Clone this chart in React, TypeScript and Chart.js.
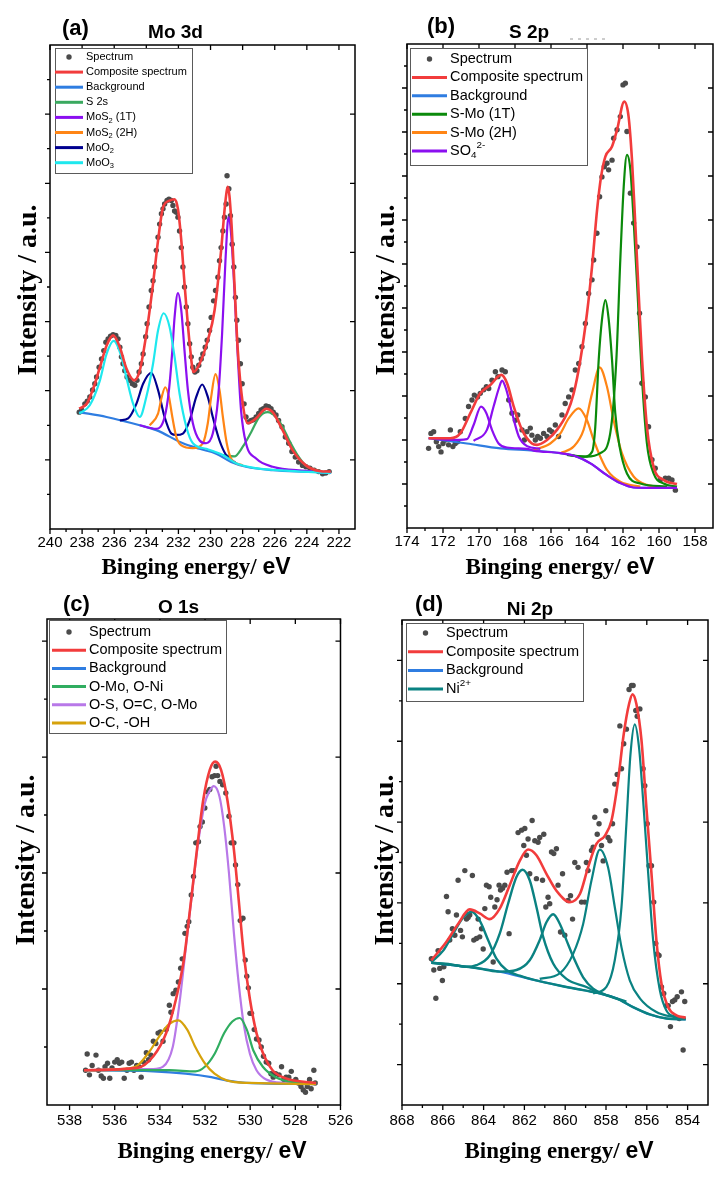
import React, { useEffect, useRef } from 'react';
import { Chart, registerables } from 'chart.js';
Chart.register(...registerables);

const SANS = '"Liberation Sans", Arial, "DejaVu Sans", sans-serif';
const SERIF = '"Liberation Serif", "Times New Roman", serif';
const DOT = '#4b4b4b';
const RED = '#f23c3c';
const BLUE = '#2f7de1';

type Pair = [number, number];

// ================= Panel (a) Mo 3d =================
const A_X_LABELS = [240, 238, 236, 234, 232, 230, 228, 226, 224, 222];
const A_X_MINOR = [239, 237, 235, 233, 231, 229, 227, 225, 223];
const A_Y_MAJOR = [1, 2, 3, 4, 5, 6];
const A_Y_MINOR = [0.5, 1.5, 2.5, 3.5, 4.5, 5.5, 6.5];
const A_NAMES = ['Spectrum', 'Composite spectrum', 'Background', 'S 2s', 'MoS_{2} (1T)', 'MoS_{2} (2H)', 'MoO_{2}', 'MoO_{3}'];
const A_SPECTRUM: Pair[] = [[238.18,1.69],[238.03,1.72],[237.83,1.81],[237.68,1.85],[237.52,1.91],[237.35,2.01],[237.21,2.10],[237.10,2.20],[236.94,2.34],[236.79,2.46],[236.65,2.58],[236.52,2.70],[236.38,2.75],[236.23,2.79],[236.07,2.81],[235.90,2.80],[235.76,2.75],[235.65,2.63],[235.55,2.49],[235.45,2.39],[235.34,2.29],[235.20,2.20],[235.03,2.15],[234.87,2.10],[234.72,2.08],[234.58,2.15],[234.45,2.27],[234.31,2.39],[234.20,2.53],[234.04,2.78],[233.95,2.97],[233.83,3.21],[233.69,3.45],[233.58,3.59],[233.48,3.79],[233.38,4.03],[233.27,4.22],[233.17,4.41],[233.06,4.56],[232.96,4.63],[232.86,4.70],[232.71,4.75],[232.59,4.77],[232.44,4.75],[232.34,4.68],[232.24,4.60],[232.13,4.58],[232.03,4.51],[231.93,4.31],[231.82,4.07],[231.72,3.79],[231.62,3.50],[231.51,3.21],[231.41,2.97],[231.30,2.68],[231.20,2.49],[231.10,2.34],[230.97,2.27],[230.85,2.29],[230.73,2.37],[230.58,2.46],[230.48,2.53],[230.33,2.63],[230.21,2.73],[230.06,2.87],[229.96,3.06],[229.81,3.30],[229.69,3.45],[229.54,3.64],[229.44,3.88],[229.34,4.07],[229.23,4.31],[229.13,4.51],[229.03,4.70],[228.97,5.11],[228.86,4.92],[228.76,4.53],[228.65,4.12],[228.55,3.79],[228.45,3.35],[228.36,3.02],[228.26,2.73],[228.14,2.39],[228.03,2.10],[227.91,1.81],[227.79,1.62],[227.62,1.55],[227.47,1.57],[227.33,1.58],[227.16,1.62],[227.00,1.67],[226.85,1.72],[226.71,1.74],[226.54,1.78],[226.38,1.77],[226.23,1.74],[226.09,1.69],[225.92,1.65],[225.76,1.57],[225.55,1.48],[225.34,1.33],[225.13,1.24],[224.93,1.12],[224.72,1.04],[224.51,0.97],[224.27,0.92],[224.06,0.90],[223.81,0.88],[223.54,0.85],[223.27,0.83],[223.02,0.80],[222.82,0.81],[222.61,0.83]];
const A_COMPOSITE: Pair[] = [[238.18,1.74],[237.72,1.81],[237.31,2.03],[236.89,2.34],[236.48,2.65],[236.07,2.80],[235.65,2.63],[235.24,2.32],[234.76,2.15],[234.41,2.29],[234.00,2.82],[233.58,3.55],[233.27,4.17],[232.96,4.65],[232.55,4.75],[232.24,4.77],[232.03,4.63],[231.82,4.17],[231.62,3.55],[231.30,2.68],[231.06,2.27],[230.68,2.39],[230.17,2.73],[229.75,3.16],[229.34,4.03],[229.09,4.70],[228.92,4.95],[228.72,4.51],[228.51,3.55],[228.30,2.58],[227.99,1.81],[227.68,1.53],[227.16,1.60],[226.54,1.74],[226.13,1.69],[225.51,1.43],[224.89,1.14],[224.06,0.92],[223.23,0.84],[222.51,0.83]];
const A_BACKGROUND: Pair[] = [[238.18,1.69],[236.48,1.62],[234.41,1.50],[233.38,1.43],[231.72,1.24],[230.68,1.16],[229.65,1.09],[228.72,0.97],[227.79,0.90],[226.13,0.85],[224.06,0.83],[222.51,0.82]];
const A_S2S: Pair[] = [[229.23,1.07],[228.51,1.05],[227.99,1.19],[227.47,1.40],[226.96,1.62],[226.44,1.69],[225.92,1.62],[225.51,1.48],[225.09,1.28],[224.58,1.07],[224.06,0.92],[223.23,0.84],[222.51,0.81]];
const A_MOS2_1T: Pair[] = [[234.41,1.50],[233.38,1.45],[232.86,1.62],[232.59,2.01],[232.38,2.58],[232.24,3.06],[232.03,3.41],[231.82,3.16],[231.62,2.58],[231.41,2.01],[231.10,1.53],[230.68,1.28],[230.27,1.24],[229.86,1.38],[229.54,1.86],[229.28,2.82],[229.07,3.88],[228.88,4.51],[228.72,4.27],[228.51,3.45],[228.30,2.49],[228.10,1.72],[227.79,1.24],[227.16,1.02],[226.13,0.90],[224.06,0.84],[222.51,0.81]];
const A_MOS2_2H: Pair[] = [[233.79,1.50],[233.27,1.67],[233.06,1.89],[232.82,2.05],[232.59,1.91],[232.38,1.62],[232.13,1.33],[231.82,1.21],[231.10,1.17],[230.48,1.24],[230.17,1.53],[229.96,1.91],[229.69,2.24],[229.44,2.01],[229.23,1.62],[228.99,1.24],[228.72,1.02],[227.99,0.92]];
const A_MOO2: Pair[] = [[235.65,1.57],[235.13,1.60],[234.62,1.81],[234.20,2.10],[233.69,2.26],[233.27,2.01],[232.86,1.62],[232.44,1.38],[232.13,1.36],[231.72,1.38],[231.30,1.57],[230.89,1.91],[230.52,2.09],[230.17,1.91],[229.86,1.62],[229.44,1.28],[229.03,1.07],[228.41,0.95]];
const A_MOO3: Pair[] = [[238.18,1.67],[237.52,1.79],[236.89,2.15],[236.48,2.53],[236.03,2.72],[235.55,2.49],[235.20,2.15],[234.82,1.81],[234.41,1.62],[234.00,1.91],[233.58,2.39],[233.27,2.87],[232.92,3.12],[232.55,2.92],[232.24,2.49],[231.93,1.96],[231.51,1.48],[231.10,1.24],[230.27,1.16],[229.23,1.07],[228.41,0.95],[227.16,0.88],[225.09,0.84],[222.51,0.81]];

// ================= Panel (b) S 2p =================
const B_X_LABELS = [174, 172, 170, 168, 166, 164, 162, 160, 158];
const B_X_MINOR = [173, 171, 169, 167, 165, 163, 161, 159];
const B_Y_MAJOR = [1, 2, 3, 4, 5, 6, 7, 8, 9, 10];
const B_Y_MINOR = [0.5, 1.5, 2.5, 3.5, 4.5, 5.5, 6.5, 7.5, 8.5, 9.5, 10.5];
const B_NAMES = ['Spectrum', 'Composite spectrum', 'Background', 'S-Mo (1T)', 'S-Mo (2H)', 'SO_{4}^{2-}'];
const B_SPECTRUM: Pair[] = [[172.80,1.81],[172.67,2.15],[172.52,2.19],[172.37,1.96],[172.24,1.85],[172.11,1.73],[172.00,1.92],[171.87,2.00],[171.69,1.89],[171.59,2.23],[171.45,1.85],[171.32,1.92],[171.19,1.96],[171.04,2.19],[170.76,2.49],[170.58,2.76],[170.39,2.91],[170.26,3.02],[170.08,2.98],[169.93,3.06],[169.74,3.14],[169.59,3.21],[169.46,3.17],[169.28,3.36],[169.09,3.55],[168.95,3.44],[168.72,3.59],[168.54,3.55],[168.35,2.91],[168.17,2.61],[167.98,2.45],[167.85,2.57],[167.61,2.23],[167.48,2.00],[167.34,2.19],[167.15,2.27],[167.06,2.11],[166.87,2.00],[166.74,2.08],[166.59,2.04],[166.41,2.15],[166.22,2.08],[166.08,2.23],[165.95,2.19],[165.76,2.34],[165.58,2.08],[165.39,2.57],[165.21,2.83],[165.02,2.98],[164.83,3.14],[164.65,3.59],[164.46,3.74],[164.28,4.12],[164.09,4.65],[163.91,5.33],[163.72,5.64],[163.63,6.09],[163.45,6.70],[163.30,7.53],[163.17,7.98],[163.04,8.21],[162.89,8.29],[162.80,8.14],[162.61,8.36],[162.52,8.86],[162.33,9.05],[162.15,9.35],[162.00,10.07],[161.87,10.11],[161.78,9.01],[161.59,7.61],[161.41,6.93],[161.22,6.39],[161.08,4.88],[160.95,3.29],[160.76,2.98],[160.58,2.30],[160.39,1.55],[160.21,1.36],[159.93,1.09],[159.65,1.13],[159.46,1.13],[159.28,1.09],[159.09,0.86]];
const B_COMPOSITE: Pair[] = [[172.80,2.04],[171.59,2.04],[171.04,2.15],[170.48,2.61],[169.93,3.06],[169.37,3.25],[168.76,3.48],[168.44,3.29],[168.07,2.76],[167.61,2.23],[167.06,1.92],[166.78,1.89],[166.22,2.00],[165.67,2.23],[165.11,2.61],[164.74,3.06],[164.37,3.82],[164.00,4.88],[163.72,5.94],[163.44,7.23],[163.22,7.98],[162.98,8.44],[162.61,8.67],[162.33,9.05],[161.93,9.69],[161.69,9.35],[161.50,8.36],[161.31,6.85],[161.13,5.33],[160.94,3.82],[160.67,2.30],[160.30,1.39],[159.74,1.09],[159.00,1.00]];
const B_BACKGROUND: Pair[] = [[172.80,2.04],[170.67,1.92],[168.81,1.81],[166.96,1.76],[165.48,1.70],[164.56,1.62],[163.81,1.47],[162.89,1.20],[162.15,1.02],[161.41,0.92],[160.30,0.91],[159.00,0.91]];
const B_SMO_1T_A: Pair[] = [[165.11,1.66],[164.19,1.62],[163.72,1.73],[163.54,2.30],[163.35,3.82],[163.17,4.73],[162.98,5.18],[162.81,4.80],[162.61,3.82],[162.43,2.61],[162.19,1.85],[161.78,1.24],[161.04,1.01],[159.56,0.94]];
const B_SMO_1T_B: Pair[] = [[165.11,1.66],[164.00,1.62],[163.26,1.70],[162.71,2.15],[162.37,3.82],[162.15,6.09],[161.96,7.76],[161.78,8.48],[161.59,8.14],[161.41,7.00],[161.19,5.33],[160.95,3.44],[160.67,1.92],[160.30,1.24],[159.74,1.01],[159.00,0.94]];
const B_SMO_2H_A: Pair[] = [[166.97,1.77],[166.04,1.92],[165.48,2.15],[165.02,2.49],[164.46,2.72],[164.00,2.45],[163.63,2.00],[163.26,1.62],[162.89,1.32],[162.15,1.05],[161.04,0.94]];
const B_SMO_2H_B: Pair[] = [[165.48,1.70],[164.74,1.85],[164.19,2.23],[163.72,3.06],[163.30,3.65],[162.89,3.21],[162.52,2.45],[162.06,1.70],[161.41,1.17],[160.67,0.98],[159.56,0.92]];
const B_SO4_A: Pair[] = [[172.80,2.04],[171.59,2.00],[170.67,2.02],[170.30,2.34],[169.89,2.76],[169.59,2.61],[169.28,2.23],[168.91,1.92],[168.45,1.83],[167.33,1.80],[166.96,1.76],[165.48,1.70],[164.56,1.62],[163.81,1.47],[162.89,1.20],[162.15,1.02],[161.41,0.92],[160.30,0.91],[159.00,0.91]];
const B_SO4_B: Pair[] = [[170.30,1.98],[169.56,2.23],[169.19,2.76],[168.90,3.17],[168.72,3.35],[168.48,3.14],[168.16,2.61],[167.79,2.08],[167.33,1.86],[166.59,1.80]];

// ================= Panel (c) O 1s =================
const C_X_LABELS = [538, 536, 534, 532, 530, 528, 526];
const C_X_MINOR = [537, 535, 533, 531, 529, 527];
const C_Y_MAJOR = [1, 2, 3, 4];
const C_Y_MINOR = [0.5, 1.5, 2.5, 3.5];
const C_NAMES = ['Spectrum', 'Composite spectrum', 'Background', 'O-Mo, O-Ni', 'O-S, O=C, O-Mo', 'O-C, -OH'];
const C_SPECTRUM: Pair[] = [[537.29,0.30],[537.22,0.44],[537.12,0.26],[537.00,0.34],[536.83,0.43],[536.72,0.30],[536.60,0.25],[536.50,0.23],[536.43,0.33],[536.32,0.36],[536.22,0.23],[536.12,0.32],[536.00,0.37],[535.89,0.39],[535.79,0.36],[535.69,0.37],[535.58,0.23],[535.46,0.30],[535.36,0.36],[535.26,0.37],[535.15,0.30],[535.03,0.34],[534.93,0.33],[534.83,0.24],[534.72,0.37],[534.60,0.45],[534.50,0.39],[534.40,0.43],[534.29,0.55],[534.18,0.53],[534.08,0.62],[533.98,0.63],[533.86,0.55],[533.72,0.65],[533.58,0.86],[533.51,0.80],[533.41,0.96],[533.29,0.99],[533.18,1.06],[533.08,1.18],[533.01,1.26],[532.89,1.48],[532.79,1.54],[532.72,1.58],[532.61,1.81],[532.51,1.97],[532.41,2.26],[532.29,2.27],[532.22,2.40],[532.12,2.44],[532.01,2.56],[531.89,2.70],[531.79,2.72],[531.69,2.83],[531.58,2.84],[531.51,2.92],[531.44,2.84],[531.34,2.79],[531.22,2.76],[531.08,2.69],[530.94,2.49],[530.84,2.26],[530.72,2.26],[530.65,2.07],[530.55,1.90],[530.44,1.59],[530.32,1.61],[530.22,1.25],[530.15,1.11],[530.08,1.01],[530.01,0.79],[529.94,0.79],[529.82,0.65],[529.72,0.57],[529.61,0.56],[529.51,0.50],[529.41,0.42],[529.29,0.37],[529.18,0.36],[529.08,0.27],[528.98,0.24],[528.87,0.27],[528.72,0.26],[528.61,0.33],[528.51,0.22],[528.41,0.24],[528.29,0.24],[528.18,0.29],[528.08,0.20],[527.98,0.22],[527.87,0.19],[527.75,0.16],[527.65,0.13],[527.55,0.11],[527.47,0.16],[527.37,0.22],[527.30,0.14],[527.18,0.30],[527.12,0.19]];
const C_COMPOSITE: Pair[] = [[537.36,0.30],[535.00,0.32],[534.29,0.42],[533.72,0.62],[533.29,0.91],[532.94,1.25],[532.65,1.71],[532.36,2.20],[532.08,2.63],[531.79,2.89],[531.55,2.96],[531.29,2.89],[531.01,2.63],[530.72,2.20],[530.51,1.77],[530.29,1.31],[530.01,0.91],[529.72,0.62],[529.44,0.45],[529.01,0.30],[528.44,0.23],[527.08,0.19]];
const C_BACKGROUND: Pair[] = [[537.36,0.30],[534.29,0.29],[532.86,0.27],[531.72,0.24],[531.01,0.21],[530.15,0.19],[527.08,0.18]];
const C_OMO: Pair[] = [[537.36,0.30],[533.58,0.30],[532.43,0.29],[532.01,0.33],[531.58,0.44],[531.15,0.62],[530.79,0.72],[530.46,0.75],[530.15,0.65],[529.86,0.47],[529.44,0.33],[528.87,0.24],[528.15,0.20],[527.08,0.19]];
const C_OS: Pair[] = [[537.36,0.30],[535.72,0.31],[534.29,0.31],[533.86,0.33],[533.43,0.50],[533.15,0.85],[532.86,1.34],[532.58,1.82],[532.29,2.28],[532.01,2.60],[531.79,2.71],[531.61,2.75],[531.36,2.66],[531.15,2.40],[530.94,2.00],[530.72,1.48],[530.51,1.05],[530.29,0.70],[530.01,0.44],[529.72,0.30],[529.29,0.22],[528.44,0.19],[527.08,0.18]];
const C_OC: Pair[] = [[537.36,0.30],[535.72,0.31],[535.00,0.34],[534.43,0.47],[533.93,0.62],[533.58,0.70],[533.18,0.73],[532.79,0.65],[532.43,0.50],[532.01,0.36],[531.58,0.27],[531.01,0.21],[530.01,0.19],[527.08,0.18]];

// ================= Panel (d) Ni 2p =================
const D_X_LABELS = [868, 866, 864, 862, 860, 858, 856, 854];
const D_X_MINOR = [867, 865, 863, 861, 859, 857, 855];
const D_Y_MAJOR = [0.5, 1.5, 2.5, 3.5, 4.5, 5.5];
const D_Y_MINOR = [1, 2, 3, 4, 5];
const D_NAMES = ['Spectrum', 'Composite spectrum', 'Background', 'Ni^{2+}'];
const D_SPECTRUM: Pair[] = [[866.56,1.81],[866.44,1.67],[866.34,1.32],[866.23,1.91],[866.15,1.69],[866.02,1.54],[865.95,1.71],[865.82,2.58],[865.74,2.39],[865.66,2.04],[865.53,2.18],[865.41,2.10],[865.33,2.35],[865.25,2.78],[865.13,2.16],[865.04,2.08],[864.92,2.90],[864.84,2.30],[864.76,2.32],[864.68,2.35],[864.55,2.84],[864.48,2.04],[864.35,2.06],[864.27,2.30],[864.19,2.08],[864.10,2.18],[864.02,1.93],[863.94,2.43],[863.86,2.72],[863.73,2.70],[863.65,2.57],[863.53,1.77],[863.45,2.45],[863.34,2.54],[863.24,2.72],[863.17,2.66],[863.07,2.68],[862.96,2.72],[862.85,2.88],[862.75,2.12],[862.63,2.90],[862.52,2.90],[862.31,3.37],[862.14,3.40],[862.03,3.21],[861.98,3.42],[861.90,3.09],[861.82,3.29],[861.74,2.86],[861.62,3.52],[861.49,3.27],[861.41,2.80],[861.33,3.25],[861.25,3.31],[861.11,2.78],[861.05,3.35],[860.95,2.45],[860.84,2.57],[860.76,2.49],[860.67,3.13],[860.56,3.11],[860.43,3.17],[860.35,2.72],[860.23,2.14],[860.13,2.86],[860.02,2.10],[859.86,2.53],[859.74,2.59],[859.64,2.30],[859.53,3.00],[859.37,2.94],[859.20,2.51],[859.04,2.51],[858.96,3.00],[858.88,2.90],[858.71,3.15],[858.63,3.19],[858.55,3.56],[858.43,3.35],[858.34,3.48],[858.22,3.21],[858.14,3.02],[858.01,3.64],[857.90,3.31],[857.81,3.27],[857.68,3.48],[857.57,3.97],[857.45,4.09],[857.32,4.69],[857.24,4.16],[857.13,4.47],[857.00,4.65],[856.87,5.14],[856.75,5.19],[856.67,5.19],[856.54,4.88],[856.47,4.81],[856.34,4.90],[856.18,4.16],[856.10,3.95],[855.98,3.48],[855.89,2.96],[855.77,2.96],[855.66,2.51],[855.56,2.00],[855.49,1.87],[855.40,1.85],[855.28,1.46],[855.17,1.38],[855.04,1.23],[854.95,1.23],[854.84,0.97],[854.74,1.28],[854.63,1.30],[854.51,1.34],[854.41,1.07],[854.30,1.40],[854.22,0.68],[854.14,1.28]];
const D_COMPOSITE: Pair[] = [[866.56,1.79],[865.82,2.02],[865.25,2.24],[864.68,2.42],[864.19,2.37],[863.70,2.30],[863.21,2.43],[862.72,2.72],[862.23,3.02],[861.82,3.16],[861.41,3.09],[860.92,2.86],[860.43,2.65],[859.77,2.51],[859.28,2.61],[858.88,2.94],[858.47,3.23],[858.06,3.33],[857.73,3.52],[857.41,4.01],[857.13,4.59],[856.87,4.96],[856.70,5.08],[856.51,4.96],[856.26,4.51],[856.02,3.68],[855.77,2.86],[855.53,2.04],[855.28,1.50],[854.95,1.21],[854.55,1.11],[854.09,1.08]];
const D_BACKGROUND: Pair[] = [[866.56,1.76],[864.84,1.71],[863.21,1.65],[861.57,1.55],[859.94,1.46],[858.30,1.38],[857.49,1.32],[856.67,1.21],[855.85,1.12],[855.04,1.07],[854.09,1.06]];
const D_NI_1: Pair[] = [[866.56,1.77],[865.98,1.91],[865.49,2.12],[865.00,2.32],[864.59,2.39],[864.19,2.28],[863.78,2.04],[863.37,1.81],[862.88,1.67],[862.23,1.60],[861.57,1.55],[859.94,1.46],[858.30,1.38],[857.49,1.32],[856.67,1.21],[855.85,1.12],[855.04,1.07],[854.09,1.06]];
const D_NI_2: Pair[] = [[866.56,1.76],[865.60,1.74],[864.84,1.71],[864.35,1.73],[863.70,1.85],[863.21,2.12],[862.80,2.49],[862.39,2.82],[862.09,2.91],[861.74,2.78],[861.41,2.45],[861.08,2.08],[860.59,1.75],[859.94,1.56],[858.96,1.46],[858.30,1.38]];
const D_NI_3: Pair[] = [[866.56,1.76],[864.84,1.71],[864.00,1.68],[863.21,1.65],[862.39,1.67],[861.74,1.79],[861.25,2.04],[860.92,2.26],[860.59,2.36],[860.26,2.24],[859.94,2.04],[859.53,1.79],[859.12,1.58],[858.63,1.44],[857.98,1.36],[857.00,1.28]];
const D_NI_4: Pair[] = [[861.25,1.56],[860.26,1.63],[859.61,1.87],[859.12,2.24],[858.71,2.78],[858.30,3.16],[857.90,2.94],[857.57,2.45],[857.24,1.95],[856.83,1.54],[856.34,1.32],[855.53,1.15],[854.55,1.08]];
const D_NI_5: Pair[] = [[858.63,1.38],[857.98,1.46],[857.57,1.79],[857.24,2.45],[857.00,3.48],[856.80,4.34],[856.59,4.71],[856.38,4.42],[856.18,3.77],[855.93,2.86],[855.69,2.04],[855.36,1.42],[855.04,1.17],[854.55,1.09],[854.09,1.07]];

// ---------------- helpers ----------------
const pts = (a: Pair[]) => a.map(([x, y]) => ({ x, y }));
function dots(label: string, data: Pair[]) {
  return {
    label, data: pts(data), showLine: false, pointRadius: 2.7, pointHoverRadius: 2.7,
    pointBackgroundColor: DOT, pointBorderWidth: 0, borderColor: DOT, backgroundColor: DOT, order: 10,
  };
}
function curve(label: string, data: Pair[], color: string, order: number, width = 2.2, legend = true) {
  return {
    label, data: pts(data), borderColor: color, backgroundColor: color, borderWidth: width,
    pointRadius: 0, pointHoverRadius: 0, cubicInterpolationMode: 'monotone', tension: 0.4,
    fill: false, order, legend,
  };
}

function drawRich(ctx: CanvasRenderingContext2D, text: string, x: number, y: number, size: number) {
  const parts = text.split(/(_\{[^}]*\}|\^\{[^}]*\})/).filter(Boolean);
  let cx = x;
  for (const p of parts) {
    let s = size, dy = 0, t = p;
    if (p.startsWith('_{')) { s = size * 0.68; dy = size * 0.3; t = p.slice(2, -1); }
    else if (p.startsWith('^{')) { s = size * 0.68; dy = -size * 0.38; t = p.slice(2, -1); }
    ctx.font = `${s}px ${SANS}`;
    ctx.fillText(t, cx, y + dy);
    cx += ctx.measureText(t).width;
  }
}

type Panel = {
  left: number; top: number; w: number; h: number;
  pad: { left: number; top: number; right: number; bottom: number };
  axisH: number; labelPad: number;
  xMin: number; xMax: number; yMax: number;
  xLabels: number[]; xMinor: number[]; yMajor: number[]; yMinor: number[];
  tag: string; tagX: number; tagY: number;
  title: string; titleX: number; titleY: number;
  yTitleX: number; yTitleY: number; xTitleX: number; xTitleY: number;
  legend: { x: number; y: number; w: number; h: number; row0: number; step: number; l0: number; l1: number; tx: number; font: number };
  dash?: [number, number, number];
  makeDatasets: () => any[];
};

function decorPlugin(d: Panel) {
  return {
    id: 'decor',
    afterDraw(chart: any) {
      const { ctx, chartArea: a, scales } = chart;
      const xs = scales.x, ys = scales.y;
      ctx.save();
      ctx.strokeStyle = '#000';
      ctx.lineWidth = 1.5;
      ctx.strokeRect(a.left, a.top, a.right - a.left, a.bottom - a.top);
      ctx.lineWidth = 1.3;
      ctx.beginPath();
      for (const v of d.xLabels) {
        const p = xs.getPixelForValue(v);
        ctx.moveTo(p, a.bottom); ctx.lineTo(p, a.bottom + 5);
        ctx.moveTo(p, a.top); ctx.lineTo(p, a.top + 5);
      }
      for (const v of d.xMinor) {
        const p = xs.getPixelForValue(v);
        ctx.moveTo(p, a.bottom); ctx.lineTo(p, a.bottom + 3);
      }
      for (const v of d.yMajor) {
        const p = ys.getPixelForValue(v);
        ctx.moveTo(a.left - 5, p); ctx.lineTo(a.left, p);
        ctx.moveTo(a.right - 5, p); ctx.lineTo(a.right, p);
      }
      for (const v of d.yMinor) {
        const p = ys.getPixelForValue(v);
        ctx.moveTo(a.left - 3, p); ctx.lineTo(a.left, p);
      }
      ctx.stroke();

      // panel tag & title
      ctx.fillStyle = '#000';
      ctx.textBaseline = 'middle';
      ctx.textAlign = 'left';
      ctx.font = `bold 22px ${SANS}`;
      ctx.fillText(d.tag, d.tagX, d.tagY);
      ctx.textAlign = 'center';
      ctx.font = `bold 19px ${SANS}`;
      ctx.fillText(d.title, d.titleX, d.titleY);
      if (d.dash) {
        ctx.save();
        ctx.strokeStyle = '#9a9a9a'; ctx.lineWidth = 1; ctx.setLineDash([3, 5]);
        ctx.beginPath(); ctx.moveTo(d.dash[0], d.dash[2]); ctx.lineTo(d.dash[1], d.dash[2]); ctx.stroke();
        ctx.restore();
      }

      // x title (mixed fonts)
      const t1 = 'Binging energy/ ', t2 = 'eV';
      ctx.font = `bold 23px ${SERIF}`;
      const w1 = ctx.measureText(t1).width;
      ctx.font = `bold 23px ${SANS}`;
      const w2 = ctx.measureText(t2).width;
      const x0 = d.xTitleX - (w1 + w2) / 2;
      ctx.textAlign = 'left';
      ctx.font = `bold 23px ${SERIF}`;
      ctx.fillText(t1, x0, d.xTitleY);
      ctx.font = `bold 23px ${SANS}`;
      ctx.fillText(t2, x0 + w1, d.xTitleY);

      // y title
      ctx.save();
      ctx.translate(d.yTitleX, d.yTitleY);
      ctx.rotate(-Math.PI / 2);
      ctx.textAlign = 'center';
      ctx.font = `bold 28px ${SERIF}`;
      ctx.fillText('Intensity / a.u.', 0, 0);
      ctx.restore();

      // legend
      const L = d.legend;
      ctx.fillStyle = '#fff';
      ctx.fillRect(L.x, L.y, L.w, L.h);
      ctx.strokeStyle = '#5a5a5a';
      ctx.lineWidth = 1;
      ctx.strokeRect(L.x + 0.5, L.y + 0.5, L.w, L.h);
      let row = 0;
      for (const ds of chart.data.datasets) {
        if (ds.legend === false) continue;
        const y = L.row0 + row * L.step;
        if (ds.showLine === false) {
          ctx.fillStyle = DOT;
          ctx.beginPath(); ctx.arc((L.l0 + L.l1) / 2, y, 2.7, 0, Math.PI * 2); ctx.fill();
        } else {
          ctx.strokeStyle = ds.borderColor; ctx.lineWidth = 3;
          ctx.beginPath(); ctx.moveTo(L.l0, y); ctx.lineTo(L.l1, y); ctx.stroke();
        }
        ctx.fillStyle = '#000';
        ctx.textAlign = 'left';
        ctx.textBaseline = 'middle';
        drawRich(ctx, ds.label, L.tx, y, L.font);
        row++;
      }
      ctx.restore();
    },
  };
}

const PANELS: Panel[] = [
  {
    left: 0, top: 0, w: 360, h: 590,
    pad: { left: 50, top: 45, right: 5, bottom: 0 }, axisH: 61, labelPad: 5,
    xMin: 221, xMax: 240, yMax: 7,
    xLabels: A_X_LABELS, xMinor: A_X_MINOR, yMajor: A_Y_MAJOR, yMinor: A_Y_MINOR,
    tag: '(a)', tagX: 62, tagY: 29, title: 'Mo 3d', titleX: 175.5, titleY: 33,
    yTitleX: 29, yTitleY: 290, xTitleX: 196, xTitleY: 568,
    legend: { x: 55, y: 48, w: 137, h: 125, row0: 57, step: 15.1, l0: 55, l1: 83, tx: 86, font: 11 },
    makeDatasets: () => [
      dots(A_NAMES[0], A_SPECTRUM),
      curve(A_NAMES[1], A_COMPOSITE, RED, 0, 2.6),
      curve(A_NAMES[2], A_BACKGROUND, BLUE, 8),
      curve(A_NAMES[3], A_S2S, '#3aa95f', 5),
      curve(A_NAMES[4], A_MOS2_1T, '#8b0ff0', 2),
      curve(A_NAMES[5], A_MOS2_2H, '#ff8515', 3),
      curve(A_NAMES[6], A_MOO2, '#00008f', 4),
      curve(A_NAMES[7], A_MOO3, '#1ee8ee', 1),
    ],
  },
  {
    left: 360, top: 0, w: 360, h: 590,
    pad: { left: 47, top: 44, right: 7, bottom: 0 }, axisH: 62, labelPad: 5,
    xMin: 157, xMax: 174, yMax: 11,
    xLabels: B_X_LABELS, xMinor: B_X_MINOR, yMajor: B_Y_MAJOR, yMinor: B_Y_MINOR,
    tag: '(b)', tagX: 67, tagY: 27, title: 'S 2p', titleX: 169, titleY: 33,
    yTitleX: 27, yTitleY: 290, xTitleX: 200, xTitleY: 568,
    legend: { x: 50, y: 48, w: 177, h: 117, row0: 59, step: 18.4, l0: 52, l1: 87, tx: 90, font: 14.5 },
    dash: [210, 247, 39],
    makeDatasets: () => [
      dots(B_NAMES[0], B_SPECTRUM),
      curve(B_NAMES[1], B_COMPOSITE, RED, 0, 2.6),
      curve(B_NAMES[2], B_BACKGROUND, BLUE, 8),
      curve(B_NAMES[3], B_SMO_1T_A, '#0b8a0b', 2),
      curve(B_NAMES[3], B_SMO_1T_B, '#0b8a0b', 2, 2.2, false),
      curve(B_NAMES[4], B_SMO_2H_A, '#ff8515', 3),
      curve(B_NAMES[4], B_SMO_2H_B, '#ff8515', 3, 2.2, false),
      curve(B_NAMES[5], B_SO4_A, '#8b0ff0', 1),
      curve(B_NAMES[5], B_SO4_B, '#8b0ff0', 1, 2.2, false),
    ],
  },
  {
    left: 0, top: 590, w: 360, h: 591,
    pad: { left: 47, top: 29, right: 7, bottom: 0 }, axisH: 76, labelPad: 7,
    xMin: 526, xMax: 539, yMax: 4.19,
    xLabels: C_X_LABELS, xMinor: C_X_MINOR, yMajor: C_Y_MAJOR, yMinor: C_Y_MINOR,
    tag: '(c)', tagX: 63, tagY: 15, title: 'O 1s', titleX: 178.5, titleY: 18,
    yTitleX: 27, yTitleY: 270, xTitleX: 212, xTitleY: 562,
    legend: { x: 49, y: 30, w: 177, h: 113, row0: 42, step: 18.2, l0: 52, l1: 86, tx: 89, font: 14.5 },
    makeDatasets: () => [
      dots(C_NAMES[0], C_SPECTRUM),
      curve(C_NAMES[1], C_COMPOSITE, RED, 0, 2.6),
      curve(C_NAMES[2], C_BACKGROUND, BLUE, 8),
      curve(C_NAMES[3], C_OMO, '#30ad60', 2),
      curve(C_NAMES[4], C_OS, '#b878e8', 3),
      curve(C_NAMES[5], C_OC, '#d6a20c', 1),
    ],
  },
  {
    left: 360, top: 590, w: 360, h: 591,
    pad: { left: 42, top: 30, right: 12, bottom: 0 }, axisH: 76, labelPad: 7,
    xMin: 853, xMax: 868, yMax: 6,
    xLabels: D_X_LABELS, xMinor: D_X_MINOR, yMajor: D_Y_MAJOR, yMinor: D_Y_MINOR,
    tag: '(d)', tagX: 55, tagY: 15, title: 'Ni 2p', titleX: 170, titleY: 20,
    yTitleX: 26, yTitleY: 270, xTitleX: 199, xTitleY: 562,
    legend: { x: 46, y: 33, w: 177, h: 78, row0: 43, step: 18.7, l0: 48, l1: 83, tx: 86, font: 14.5 },
    makeDatasets: () => [
      dots(D_NAMES[0], D_SPECTRUM),
      curve(D_NAMES[1], D_COMPOSITE, RED, 0, 2.6),
      curve(D_NAMES[2], D_BACKGROUND, BLUE, 8),
      curve(D_NAMES[3], D_NI_1, '#0a8282', 1, 2.4),
      curve(D_NAMES[3], D_NI_2, '#0a8282', 1, 2.4, false),
      curve(D_NAMES[3], D_NI_3, '#0a8282', 1, 2.4, false),
      curve(D_NAMES[3], D_NI_4, '#0a8282', 1, 2.2, false),
      curve(D_NAMES[3], D_NI_5, '#0a8282', 1, 2.2, false),
    ],
  },
];

function PanelChart({ cfg }: { cfg: Panel }) {
  const ref = useRef<HTMLCanvasElement>(null);
  useEffect(() => {
    const chart = new Chart(ref.current as HTMLCanvasElement, {
      type: 'line',
      data: { datasets: cfg.makeDatasets() },
      options: {
        animation: false,
        responsive: false,
        devicePixelRatio: 1,
        events: [],
        layout: { padding: cfg.pad },
        plugins: { legend: { display: false }, tooltip: { enabled: false }, title: { display: false } },
        scales: {
          x: {
            type: 'linear', reverse: true, min: cfg.xMin, max: cfg.xMax,
            afterBuildTicks: (s: any) => { s.ticks = cfg.xLabels.map((v) => ({ value: v })); },
            afterFit: (s: any) => { s.height = cfg.axisH; },
            grid: { display: false, drawTicks: false },
            border: { display: false },
            ticks: {
              autoSkip: false, maxRotation: 0, padding: cfg.labelPad, color: '#000',
              font: { family: SANS, size: 15 },
              callback: (v: any) => String(v),
            },
          },
          y: { type: 'linear', display: false, min: 0, max: cfg.yMax },
        },
      } as any,
      plugins: [decorPlugin(cfg)],
    });
    return () => chart.destroy();
  }, [cfg]);
  return (
    <canvas
      ref={ref}
      width={cfg.w}
      height={cfg.h}
      style={{ position: 'absolute', left: cfg.left, top: cfg.top, width: cfg.w, height: cfg.h }}
    />
  );
}

export default function App() {
  return (
    <div style={{ position: 'absolute', left: 0, top: 0, width: 720, height: 1181, background: '#fff', overflow: 'hidden' }}>
      {PANELS.map((p, i) => <PanelChart key={i} cfg={p} />)}
    </div>
  );
}
